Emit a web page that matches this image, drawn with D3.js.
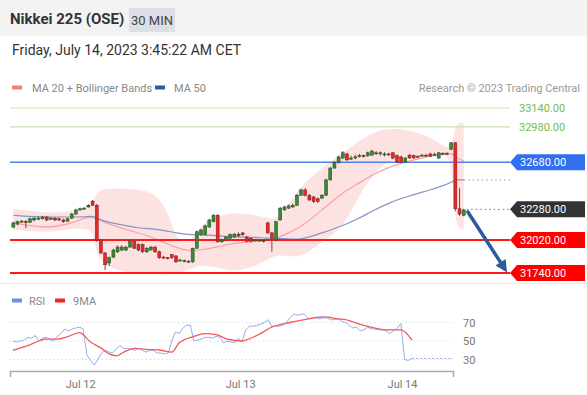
<!DOCTYPE html>
<html>
<head>
<meta charset="utf-8">
<script src="https://cdn.jsdelivr.net/npm/d3@7"></script>
<style>
  body { margin: 0; background: #fff; }
  svg { display: block; font-family: Roboto, Arial, sans-serif; }
</style>
</head>
<body>
<div id="chart"></div>
<script>
// ---- data ----
var title = "Nikkei 225 (OSE)";
var period = "30 MIN";
var stamp = "Friday, July 14, 2023 3:45:22 AM CET";

var opens = [32130,32155,32175,32175,32170,32190,32200,32200,32215,32200,
  32205,32200,32190,32180,32205,32240,32275,32285,32300,32350,
  32315,32020,31910,31825,31875,31920,31935,31935,31960,32010,
  31980,31980,31920,31935,31960,31920,31875,31870,31895,31885,
  31850,31840,31840,31835,31950,32065,32065,32130,32175,32230,
  32005,32020,32035,32045,32070,32080,32045,32035,32020,32020,
  32010,32165,32080,32020,32190,32275,32290,32300,32315,32400,
  32445,32400,32385,32370,32375,32400,32530,32630,32675,32715,
  32750,32715,32725,32730,32735,32735,32740,32760,32755,32750,
  32750,32760,32735,32725,32680,32740,32735,32730,32735,32740,
  32750,32745,32715,32755,32755,32790,32845,32285,32230];
var closes = [32165,32175,32180,32170,32200,32205,32205,32215,32190,32205,
  32190,32190,32175,32200,32240,32275,32285,32290,32315,32315,
  32020,31910,31810,31870,31935,31960,31960,31960,32010,31950,
  31935,31920,31950,31960,31920,31870,31870,31865,31870,31835,
  31850,31845,31840,31950,32090,32105,32140,32190,32230,32005,
  32020,32045,32065,32070,32055,32065,32010,32010,32020,32015,
  32015,32080,32035,32175,32290,32300,32310,32315,32400,32445,
  32400,32360,32345,32345,32400,32530,32630,32680,32725,32760,
  32700,32715,32720,32735,32730,32760,32775,32755,32760,32750,
  32745,32715,32680,32680,32715,32715,32715,32725,32740,32735,
  32730,32745,32760,32755,32750,32845,32285,32240,32275];
var highs = [32175,32185,32190,32190,32210,32215,32220,32225,32225,32215,
  32215,32210,32200,32210,32250,32285,32295,32300,32325,32360,
  32325,32030,31920,31880,31945,31975,31975,31970,32025,32020,
  31990,31990,31960,31970,31970,31930,31885,31875,31900,31890,
  31860,31855,31850,31955,32100,32115,32150,32200,32240,32240,
  32030,32055,32075,32080,32085,32090,32055,32045,32030,32030,
  32025,32175,32090,32180,32300,32310,32320,32330,32410,32455,
  32460,32410,32395,32380,32410,32540,32640,32690,32735,32775,
  32760,32735,32745,32750,32745,32770,32785,32775,32770,32765,
  32760,32765,32745,32735,32725,32750,32745,32740,32750,32750,
  32760,32760,32765,32765,32765,32850,32850,32460,32285];
var lows = [32120,32145,32165,32120,32165,32180,32190,32195,32180,32190,
  32180,32180,32165,32175,32200,32235,32270,32280,32295,32310,
  32005,31900,31765,31800,31865,31910,31925,31925,31955,31945,
  31925,31910,31910,31930,31910,31860,31860,31855,31860,31825,
  31840,31830,31830,31825,31945,32055,32060,32125,32170,31995,
  31995,32010,32030,32040,32045,32055,32000,32000,32010,32005,
  32000,32075,31920,32010,32185,32270,32285,32295,32310,32395,
  32390,32350,32335,32335,32370,32395,32525,32625,32670,32710,
  32690,32700,32705,32720,32720,32725,32735,32740,32735,32730,
  32735,32705,32675,32675,32675,32710,32710,32720,32730,32725,
  32725,32735,32710,32745,32745,32785,32265,32225,32220];

// Bollinger band, MA20 and MA50 sampled at these candle indices
var bandIdx = [0,6,10,14,17,19,20,22,26,30,34,37,39,42,45,49,53,57,61,63,66,69,74,79,83,86,90,95,100,103,105,106,107,108];
var bandUpper = [32285,32260,32250,32265,32300,32315,32435,32455,32460,32445,32420,32275,32020,31980,32155,32225,32250,32240,32205,32190,32315,32485,32630,32765,32860,32930,32970,32955,32895,32820,32785,32995,33015,33015];
var bandLower = [32105,32090,32090,32120,32115,32105,31895,31800,31750,31740,31730,31725,31740,31765,31815,31785,31750,31785,31850,31895,31885,31870,32005,32120,32400,32570,32700,32725,32725,32735,32740,32150,32120,32105];
var ma20 = [32165,32130,32130,32165,32205,32215,32200,32165,32120,32080,32035,31985,31955,31925,31935,31960,31995,32005,32020,32035,32080,32130,32275,32425,32505,32570,32640,32690,32735,32750,32760,32725,32705,32690];
var ma50 = [32230,32215,32215,32215,32215,32225,32205,32175,32150,32120,32115,32095,32080,32065,32065,32055,32045,32045,32035,32035,32030,32020,32080,32140,32205,32265,32335,32395,32445,32480,32510,32530,32530,32530];

var resistances = [33140, 32980];
var pivot = [32680];
var supports = [32020, 31740];
var lastPrice = 32280;
var arrowFrom = [109, 32258];
var arrowTo = [118.4, 31745];

var rsi = [50,49,50,51,54,53,56,50,53,54,
  52,50,55,58,63,61,63,64,65,63,
  35,29,24,30,37,40,38,37,42,45,
  42,42,41,40,42,40,38,40,40,37,
  37,36,37,50,60,58,64,67,67,50,
  51,52,54,54,53,55,54,48,50,49,
  48,53,49,62,66,66,67,68,70,73,
  66,66,66,67,70,75,79,78,79,79,
  74,75,75,74,75,75,73,73,74,71,
  70,67,64,65,61,62,65,63,63,62,
  62,61,58,61,64,69,30,29,31];
var rsiMaIdx = [0,4,7,9,12,15,18,21,24,26,28,30,33,36,40,43,45,49,52,55,58,62,63,67,70,75,80,84,88,90,94,98,101,105,108];
var rsiMa = [40,45,50,52,52,55,59,49,42,36,34,38,42,41,40,38,48,55,58,57,52,50,51,58,65,70,74,76,74,73,68,64,62,62,51];
var rsiLevels = [70, 50, 30];

var dayIdx = [18.2, 61.5, 105.3];
var dayLabels = ["Jul 12", "Jul 13", "Jul 14"];

// ---- layout ----
var W = 587, H = 395;
var svg = d3.select("#chart").append("svg").attr("width", W).attr("height", H);

var x = d3.scaleLinear().domain([-0.8, 119.1]).range([10, 510]);
var y = d3.scaleLinear().domain([31740, 33140]).range([273, 108]);
var xr = d3.scaleLinear().domain([-0.8, 119.1]).range([10, 453]);
var yr = d3.scaleLinear().domain([30, 70]).range([359.5, 322.5]);

// header
svg.append("rect").attr("x", 0).attr("y", 0).attr("width", W).attr("height", 36).attr("fill", "#f3f3f3");
svg.append("text").attr("x", 10).attr("y", 24).attr("font-size", 15).attr("font-weight", "bold")
    .attr("fill", "#333").text(title);
svg.append("rect").attr("x", 129).attr("y", 8).attr("width", 46).attr("height", 24).attr("fill", "#dcdfe5");
svg.append("text").attr("x", 152).attr("y", 24.5).attr("text-anchor", "middle").attr("font-size", 13)
    .attr("fill", "#444").text(period);
svg.append("text").attr("x", 12).attr("y", 55).attr("font-size", 14).attr("fill", "#333").text(stamp);

// legends
function legend(items, ly) {
    items.forEach(function(it) {
        svg.append("rect").attr("x", it[0]).attr("y", ly - 6.5).attr("width", 10).attr("height", 4).attr("fill", it[2]);
        svg.append("text").attr("x", it[0] + it[3]).attr("y", ly).attr("font-size", 11).attr("fill", "#888").text(it[1]);
    });
}
legend([[12, "MA 20 + Bollinger Bands", "#f57b7b", 20], [155, "MA 50", "#2d5a9e", 19]], 92);
svg.append("text").attr("x", 580).attr("y", 92).attr("text-anchor", "end").attr("font-size", 11)
    .attr("fill", "#9a9a9a").text("Research \u00a9 2023 Trading Central");

// separator under the price panel
svg.append("line").attr("x1", 0).attr("x2", W).attr("y1", 283.5).attr("y2", 283.5).attr("stroke", "#ececec");

// Bollinger band and moving averages
var band = bandIdx.map(function(d, i) { return {i: d, u: bandUpper[i], l: bandLower[i], m20: ma20[i], m50: ma50[i]}; });
svg.append("path").datum(band)
    .attr("d", d3.area().curve(d3.curveBasis).x(function(d) { return x(d.i); })
        .y0(function(d) { return y(d.l); }).y1(function(d) { return y(d.u); }))
    .attr("fill", "#fde2e2");
svg.append("path").datum(band)
    .attr("d", d3.line().curve(d3.curveBasis).x(function(d) { return x(d.i); }).y(function(d) { return y(d.m20); }))
    .attr("fill", "none").attr("stroke", "#f6a3a3").attr("stroke-width", 1.2);
svg.append("path").datum(band)
    .attr("d", d3.line().curve(d3.curveBasis).x(function(d) { return x(d.i); }).y(function(d) { return y(d.m50); }))
    .attr("fill", "none").attr("stroke", "#8096c8").attr("stroke-width", 1.2);

// dotted extensions to the right edge
var lastI = opens.length - 1;
svg.append("line").attr("x1", x(lastI)).attr("x2", 510).attr("y1", y(ma50[ma50.length - 1])).attr("y2", y(ma50[ma50.length - 1]))
    .attr("stroke", "#8096c8").attr("stroke-dasharray", "1.5,3");
svg.append("line").attr("x1", x(lastI) + 3).attr("x2", 510).attr("y1", y(lastPrice)).attr("y2", y(lastPrice))
    .attr("stroke", "#777").attr("stroke-dasharray", "1.5,3");

// horizontal levels
function level(p, color, w) {
    svg.append("line").attr("x1", 10).attr("x2", 510).attr("y1", y(p)).attr("y2", y(p))
        .attr("stroke", color).attr("stroke-width", w);
}
resistances.forEach(function(p) { level(p, "#c8e6b4", 1.2); });
pivot.forEach(function(p) { level(p, "#4a80f0", 1.5); });
supports.forEach(function(p) { level(p, "#ff1a1a", 2); });

// candles
var candles = svg.append("g");
opens.forEach(function(o, i) {
    var c = closes[i], up = c >= o;
    candles.append("line").attr("x1", x(i)).attr("x2", x(i)).attr("y1", y(highs[i])).attr("y2", y(lows[i]))
        .attr("stroke", "#555").attr("stroke-width", 1);
    var top = y(Math.max(o, c)), bot = y(Math.min(o, c));
    candles.append("rect").attr("x", x(i) - 1.5).attr("y", top).attr("width", 3).attr("height", Math.max(1, bot - top))
        .attr("fill", up ? "#3a8a35" : "#e02a2a").attr("stroke", up ? "#1e4a1c" : "#8c1515").attr("stroke-width", 0.5);
});

// forecast arrow
var ax1 = x(arrowFrom[0]), ay1 = y(arrowFrom[1]), ax2 = x(arrowTo[0]), ay2 = y(arrowTo[1]);
var ang = Math.atan2(ay2 - ay1, ax2 - ax1), hl = 12, hw = 6;
var bx = ax2 - hl * Math.cos(ang), by = ay2 - hl * Math.sin(ang);
svg.append("line").attr("x1", ax1).attr("y1", ay1).attr("x2", bx).attr("y2", by)
    .attr("stroke", "#2c5b9c").attr("stroke-width", 3.5).attr("stroke-linecap", "round");
svg.append("path")
    .attr("d", "M" + ax2 + "," + ay2 + "L" + (bx - hw * Math.sin(ang)) + "," + (by + hw * Math.cos(ang)) +
        "L" + (bx + hw * Math.sin(ang)) + "," + (by - hw * Math.cos(ang)) + "Z")
    .attr("fill", "#2c5b9c");

// price labels on the right
function tag(p, fill) {
    var cy = y(p);
    svg.append("path").attr("d", "M510," + cy + "L517," + (cy - 8) + "H585V" + (cy + 8) + "H517Z").attr("fill", fill);
    svg.append("text").attr("x", 520).attr("y", cy + 4).attr("font-size", 11).attr("fill", "#fff").text(p.toFixed(2));
}
resistances.forEach(function(p) {
    svg.append("text").attr("x", 519).attr("y", y(p) + 4).attr("font-size", 11).attr("fill", "#78bd45").text(p.toFixed(2));
});
pivot.forEach(function(p) { tag(p, "#2f6ff0"); });
tag(lastPrice, "#333");
supports.forEach(function(p) { tag(p, "#ff0000"); });

// ---- RSI panel ----
legend([[12, "RSI", "#6f8fe0", 17], [55, "9MA", "#ff2020", 18]], 305);

rsiLevels.forEach(function(v) {
    svg.append("line").attr("x1", 10).attr("x2", 453).attr("y1", yr(v)).attr("y2", yr(v))
        .attr("stroke", "#cfcfcf").attr("stroke-dasharray", "1,3");
    svg.append("text").attr("x", 463).attr("y", yr(v) + 4).attr("font-size", 11).attr("fill", "#777").text(v);
});

svg.append("path").datum(rsi)
    .attr("d", d3.line().x(function(d, i) { return xr(i); }).y(function(d) { return yr(d); }))
    .attr("fill", "none").attr("stroke", "#94acf2").attr("stroke-width", 1);
svg.append("line").attr("x1", xr(lastI)).attr("x2", 453).attr("y1", yr(rsi[lastI])).attr("y2", yr(rsi[lastI]))
    .attr("stroke", "#94acf2").attr("stroke-dasharray", "2,2");
svg.append("path").datum(rsiMa)
    .attr("d", d3.line().curve(d3.curveMonotoneX).x(function(d, i) { return xr(rsiMaIdx[i]); }).y(function(d) { return yr(d); }))
    .attr("fill", "none").attr("stroke", "#f25a5a").attr("stroke-width", 1.3);

// time axis
var axis = svg.append("g").attr("transform", "translate(0,371)")
    .call(d3.axisBottom(xr).tickValues(dayIdx).tickFormat(function(d, i) { return dayLabels[i]; })
        .tickSizeInner(0).tickSizeOuter(6).tickPadding(9));
axis.select(".domain").attr("stroke", "#aaa").attr("stroke-width", 1.5);
axis.selectAll("text").attr("font-size", 11).attr("fill", "#777").attr("font-family", "Roboto, Arial, sans-serif");
</script>
</body>
</html>
